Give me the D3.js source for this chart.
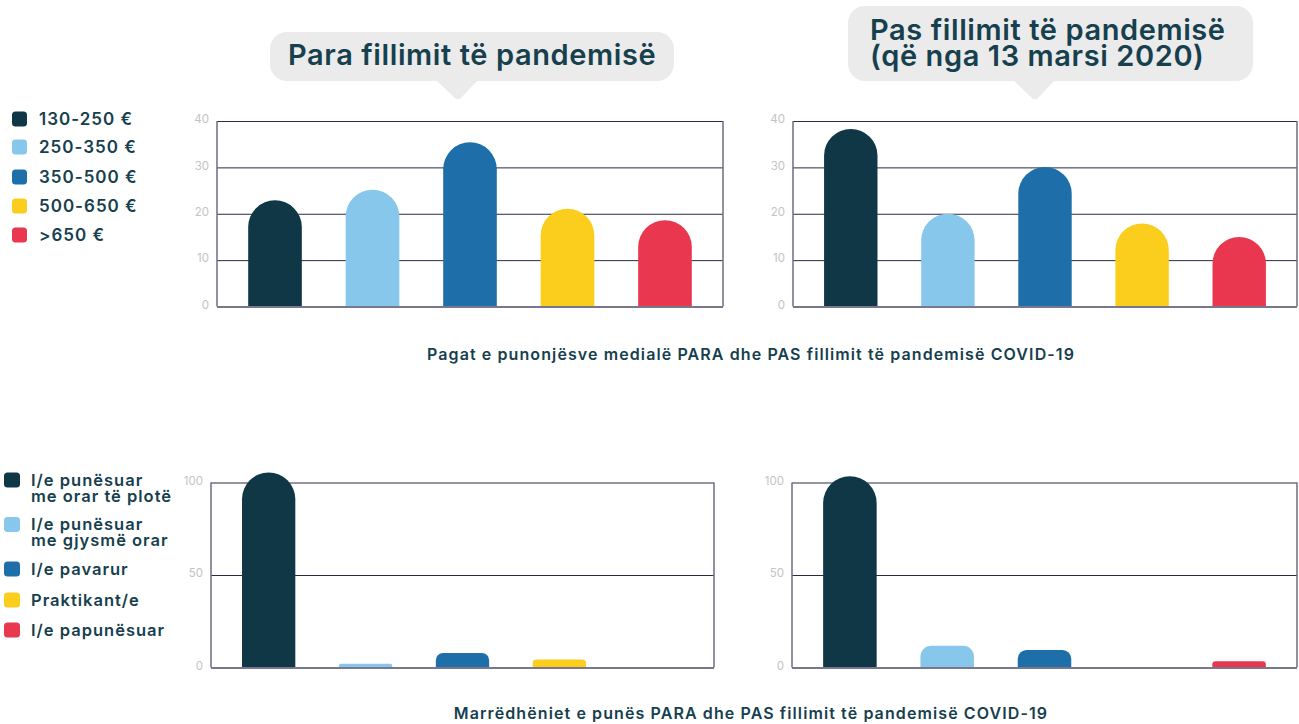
<!DOCTYPE html>
<meta charset="utf-8">
<style>
    body { margin: 0; background: #fff; }
    text { font-family: 'Inter', 'Noto Sans', sans-serif; }
</style>

<div id="chart"></div>

<script src="https://cdn.jsdelivr.net/npm/d3@7"></script>
<script>

    const width  = 1299;
    const height = 724;

    // colours of the five categories
    const colors = ["#0f3746", "#86c7eb", "#1e6ea9", "#fbcd1c", "#e9374f"];

    // wages
    const wageCats   = ["130-250 €", "250-350 €", "350-500 €", "500-650 €", ">650 €"];
    const wageBefore = [22.9, 25.2, 35.4, 21.1, 18.6];
    const wageAfter  = [38.3, 20.0, 30.1, 17.9, 15.0];
    const wageTicks  = [0, 10, 20, 30, 40];

    // employment relations
    const jobCats   = ["I/e punësuar me orar të plotë", "I/e punësuar me gjysmë orar", "I/e pavarur", "Praktikant/e", "I/e papunësuar"];
    const jobLines  = [["I/e punësuar", "me orar të plotë"], ["I/e punësuar", "me gjysmë orar"], ["I/e pavarur"], ["Praktikant/e"], ["I/e papunësuar"]];
    const jobBefore = [105.4, 2.0, 7.9, 4.3, 0];
    const jobAfter  = [103.4, 11.7, 9.5, 0, 3.4];
    const jobTicks  = [0, 50, 100];

    const textColor = "#16404e";

    const svg = d3.select("#chart")
                  .append("svg")
                  .attr("width", width)
                  .attr("height", height);

    // rounded-top bar, radius shrinks for short bars
    barPath = (x, w, y0, y1) => {
        const h = y0 - y1;
        if (h <= 0) return "";
        const r = Math.min(w / 2, h / 2);
        return `M${x},${y0} L${x},${y1 + r} A${r},${r} 0 0 1 ${x + r},${y1}` +
               ` L${x + w - r},${y1} A${r},${r} 0 0 1 ${x + w},${y1 + r} L${x + w},${y0} Z`;
    }

    function drawChart(cats, values, ticks, frame) {
        const x = d3.scaleBand()
                    .domain(cats)
                    .range([frame.left, frame.right])
                    .paddingInner(0.45)
                    .paddingOuter(0.32);

        const y = d3.scaleLinear()
                    .domain([0, d3.max(ticks)])
                    .range([frame.bottom, frame.top]);

        const g = svg.append("g");

        // grid lines
        g.append("g")
         .selectAll("line")
         .data(ticks)
         .join("line")
         .attr("x1", frame.left)
         .attr("x2", frame.right)
         .attr("y1", d => y(d) + 0.5)
         .attr("y2", d => y(d) + 0.5)
         .attr("stroke", "#2c2a44")
         .attr("stroke-width", 1);

        // sides of the frame
        g.append("g")
         .selectAll("line")
         .data([frame.left, frame.right])
         .join("line")
         .attr("x1", d => d)
         .attr("x2", d => d)
         .attr("y1", y(d3.max(ticks)))
         .attr("y2", y(0))
         .attr("stroke", "#6f6d82")
         .attr("stroke-width", 1.5);

        // tick labels
        g.append("g")
         .selectAll("text")
         .data(ticks)
         .join("text")
         .attr("x", frame.left - 8)
         .attr("y", d => y(d) - 1)
         .attr("text-anchor", "end")
         .attr("dominant-baseline", "middle")
         .attr("fill", "#c3c3c6")
         .style("font-size", "11.5px")
         .text(d => d);

        // bars
        g.append("g")
         .selectAll("path")
         .data(values)
         .join("path")
         .attr("d", (d, i) => barPath(x(cats[i]), x.bandwidth(), y(0), y(d)))
         .attr("fill", (d, i) => colors[i]);

        // base line on top of bars
        g.append("line")
         .attr("x1", frame.left)
         .attr("x2", frame.right)
         .attr("y1", y(0) + 0.5)
         .attr("y2", y(0) + 0.5)
         .attr("stroke", "#79778b")
         .attr("stroke-width", 2);
    }

    drawChart(wageCats, wageBefore, wageTicks, {left: 217, right: 723, top: 121, bottom: 306.5});
    drawChart(wageCats, wageAfter,  wageTicks, {left: 793, right: 1297, top: 121, bottom: 306.5});
    drawChart(jobCats,  jobBefore,  jobTicks,  {left: 211, right: 714, top: 482.5, bottom: 667.5});
    drawChart(jobCats,  jobAfter,   jobTicks,  {left: 792, right: 1297, top: 482.5, bottom: 667.5});

    // speech bubbles
    const bubbles = [
        {x: 270, y: 32, w: 404, h: 49, tip: 458, lines: ["Para fillimit të pandemisë"], tx: 288, ty: [65]},
        {x: 848, y: 6,  w: 405, h: 75, tip: 1035, lines: ["Pas fillimit të pandemisë", "(që nga 13 marsi 2020)"], tx: 870, ty: [40, 66]}
    ];

    const bubble = svg.append("g")
                      .selectAll("g")
                      .data(bubbles)
                      .join("g");

    bubble.append("rect")
          .attr("x", d => d.x)
          .attr("y", d => d.y)
          .attr("width", d => d.w)
          .attr("height", d => d.h)
          .attr("rx", 17)
          .attr("fill", "#ebebeb");

    bubble.append("path")
          .attr("d", d => `M${d.tip - 22},${d.y + d.h - 1} L${d.tip + 20},${d.y + d.h - 1} L${d.tip + 2},${99} L${d.tip - 2},${99} Z`)
          .attr("fill", "#ebebeb");

    bubble.each(function(d) {
        d3.select(this)
          .selectAll("text")
          .data(d.lines)
          .join("text")
          .attr("x", d.tx)
          .attr("y", (t, i) => d.ty[i])
          .attr("fill", textColor)
          .style("font-size", "29px")
          .style("font-weight", 600)
          .style("letter-spacing", "0.6px")
          .text(t => t);
    });

    // legend for the wage charts
    const wageLegendY = [119, 147, 177, 206, 235];
    const wageLegend = svg.append("g")
                          .selectAll("g")
                          .data(wageCats)
                          .join("g")
                          .attr("transform", (d, i) => `translate(12, ${wageLegendY[i]})`);

    wageLegend.append("rect")
              .attr("x", 0)
              .attr("y", -7.5)
              .attr("width", 15)
              .attr("height", 15)
              .attr("rx", 3.5)
              .attr("fill", (d, i) => colors[i]);

    wageLegend.append("text")
              .attr("x", 27)
              .attr("y", 1)
              .attr("dominant-baseline", "middle")
              .attr("fill", textColor)
              .style("font-size", "17px")
              .style("font-weight", 600)
              .style("letter-spacing", "1px")
              .text(d => d);

    // legend for the employment charts
    const jobLegendY = [480, 524.5, 569, 600, 630];
    const jobLegend = svg.append("g")
                         .selectAll("g")
                         .data(jobLines)
                         .join("g")
                         .attr("transform", (d, i) => `translate(4, ${jobLegendY[i]})`);

    jobLegend.append("rect")
             .attr("x", 0)
             .attr("y", -7.5)
             .attr("width", 16)
             .attr("height", 15)
             .attr("rx", 3.5)
             .attr("fill", (d, i) => colors[i]);

    jobLegend.each(function(lines) {
        d3.select(this)
          .selectAll("text")
          .data(lines)
          .join("text")
          .attr("x", 27)
          .attr("y", (t, i) => 1 + i * 16)
          .attr("dominant-baseline", "middle")
          .attr("fill", textColor)
          .style("font-size", "16.5px")
          .style("font-weight", 600)
          .style("letter-spacing", "1px")
          .text(t => t);
    });

    // captions
    const captions = [
        {text: "Pagat e punonjësve medialë PARA dhe PAS fillimit të pandemisë COVID-19", y: 356},
        {text: "Marrëdhëniet e punës PARA dhe PAS fillimit të pandemisë COVID-19", y: 715}
    ];

    svg.append("g")
       .selectAll("text")
       .data(captions)
       .join("text")
       .attr("x", 751)
       .attr("y", d => d.y)
       .attr("text-anchor", "middle")
       .attr("dominant-baseline", "middle")
       .attr("fill", textColor)
       .style("font-size", "16px")
       .style("font-weight", 600)
       .style("letter-spacing", "1.1px")
       .text(d => d.text);

</script>
